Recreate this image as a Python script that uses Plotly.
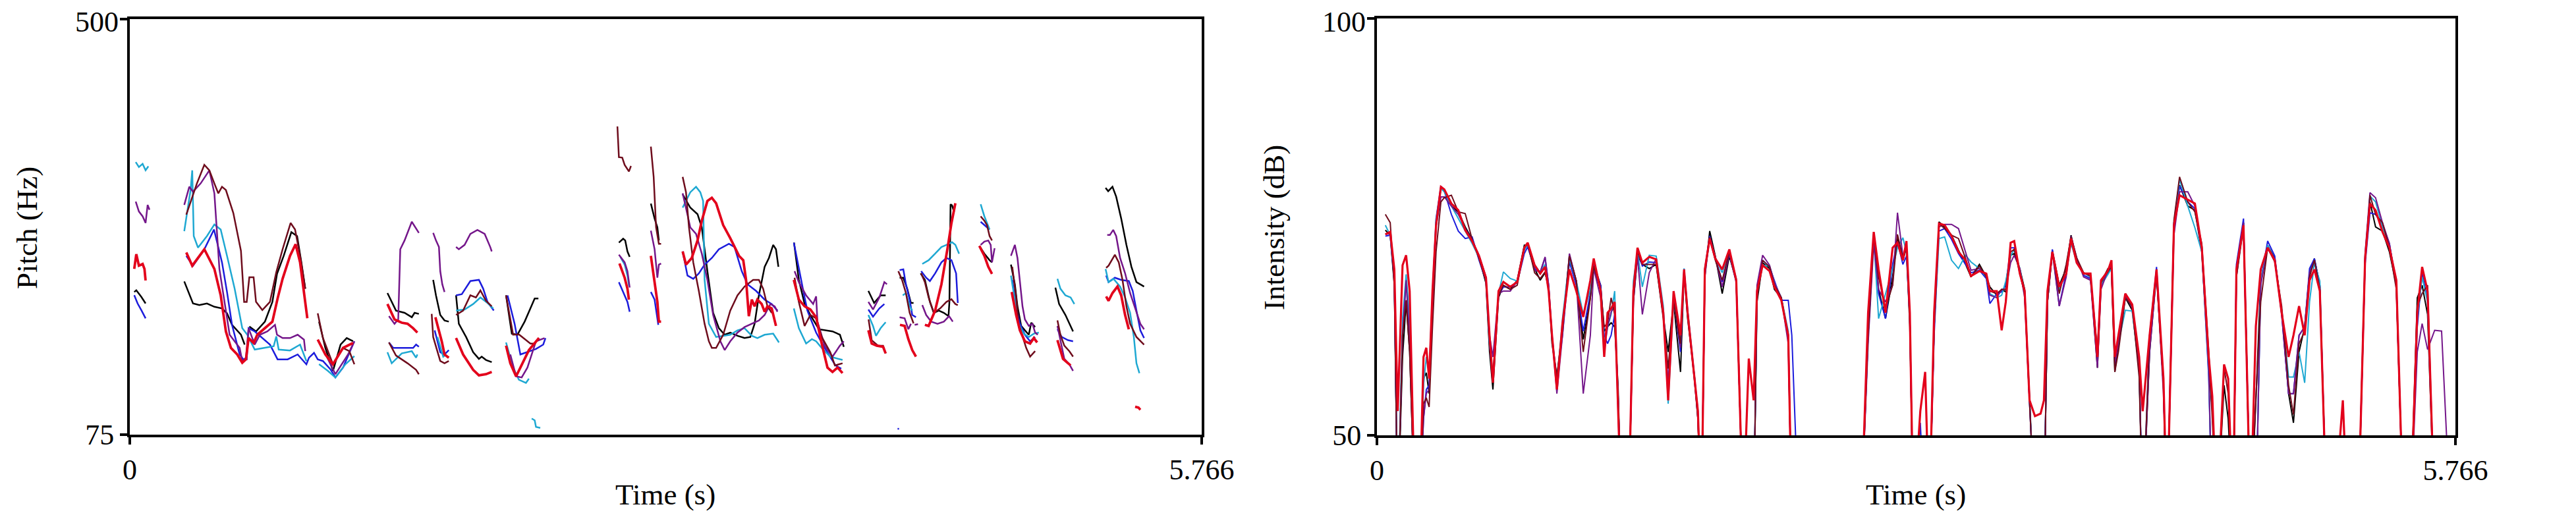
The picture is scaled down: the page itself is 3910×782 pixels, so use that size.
import plotly.graph_objects as go

# ---------------- axes / labels ----------------
T_END = 5.766
PITCH_RANGE = [75, 500]
INT_RANGE = [50, 100]
X_TICK_VALS = [0, 5.766]
X_TICK_TEXT = ["0", "5.766"]
PITCH_TICK_VALS = [75, 500]
PITCH_TICK_TEXT = ["75", "500"]
INT_TICK_VALS = [50, 100]
INT_TICK_TEXT = ["50", "100"]

SERIES_NAMES = ["black", "blue", "cyan", "purple", "maroon", "red"]
SERIES_COLORS = ["#000000", "#1c1cdc", "#1ea8d2", "#74168a", "#6e0c1c", "#e3001b"]

# ---------------- pitch contours (time s, Hz) ----------------
PITCH_BLACK = [
    [(0.024,220.9),(0.035,222.6),(0.062,215.9),(0.085,209.2)],
    [(0.293,231.7),(0.340,209.2),(0.374,207.5),(0.415,209.2),(0.455,205.8),(0.496,204.1),(0.523,199.1),(0.550,187.3),(0.598,177.2),(0.618,167.1)],
    [(0.643,185.6),(0.679,180.6),(0.727,190.7),(0.767,210.8),(0.792,239.4),(0.828,257.9),(0.869,282.1),(0.900,278.1),(0.923,251.2),(0.944,224.3)],
    [(1.018,190.6),(1.052,163.7),(1.093,140.2),(1.134,167.1),(1.167,173.8),(1.201,170.5)],
    [(1.386,219.8),(1.432,201.9),(1.478,199.6),(1.517,195.1),(1.532,199.6),(1.555,198.5)],
    [(1.632,233.3),(1.647,217.5),(1.670,197.4),(1.693,191.8),(1.716,190.6)],
    [(1.755,217.5),(1.770,188.4),(1.809,174.9),(1.847,159.3),(1.878,152.5),(1.893,154.8),(1.916,151.4),(1.947,149.2)],
    [(2.024,217.5),(2.055,178.3),(2.085,177.2),(2.124,190.6),(2.155,204.1),(2.178,214.2),(2.198,214.2)],
    [(2.631,271.4),(2.654,275.4),(2.665,273.6),(2.677,262.4),(2.689,256.8)],
    [(2.803,311.3),(2.823,296.0),(2.838,287.0),(2.846,273.6)],
    [(2.974,320.7),(3.015,307.2),(3.054,300.5),(3.077,287.0),(3.107,242.2),(3.138,199.6),(3.169,183.9),(3.200,177.2),(3.230,179.4),(3.269,176.1),(3.307,173.8),(3.338,174.9),(3.361,188.4),(3.384,217.5),(3.415,246.7),(3.438,255.7),(3.461,269.1),(3.476,264.6),(3.489,246.7)],
    [(3.573,271.4),(3.599,233.3),(3.630,208.6),(3.661,197.4),(3.707,182.8),(3.753,181.7),(3.780,180.6),(3.820,177.2),(3.841,164.9)],
    [(3.973,222.0),(4.004,209.7),(4.039,217.5),(4.066,217.5)],
    [(4.141,235.5),(4.161,235.5),(4.182,224.3),(4.202,209.7),(4.216,209.7)],
    [(4.254,240.0),(4.277,233.3),(4.304,210.8),(4.325,199.6),(4.352,201.9),(4.379,199.6),(4.404,196.2),(4.409,210.8),(4.415,310.6),(4.423,309.5),(4.434,302.7)],
    [(4.570,268.0),(4.597,260.1),(4.625,253.4),(4.638,251.2)],
    [(4.740,248.9),(4.761,228.8),(4.775,206.3),(4.795,186.2),(4.815,181.7),(4.836,177.2),(4.849,189.5),(4.870,185.0)],
    [(4.979,225.4),(4.999,208.6),(5.033,197.4),(5.054,188.4),(5.074,180.6)],
    [(5.249,327.4),(5.263,324.0),(5.286,328.5),(5.306,318.4),(5.333,296.0),(5.361,269.1),(5.388,246.7),(5.415,231.0),(5.456,226.5)],
]
PITCH_BLUE = [
    [(0.024,217.6),(0.042,209.2),(0.062,202.4),(0.085,194.0)],
    [(0.304,257.9),(0.340,247.8),(0.401,264.6),(0.453,284.8),(0.496,251.2),(0.523,220.9),(0.550,187.3),(0.591,157.0),(0.611,152.0),(0.629,152.0),(0.639,183.9),(0.672,180.6),(0.754,167.1),(0.795,152.0),(0.849,152.0),(0.903,157.0),(0.950,146.9),(0.964,153.7),(0.991,158.7),(1.011,152.0),(1.039,150.3),(1.079,141.9),(1.106,133.5),(1.147,143.6),(1.208,170.5)],
    [(1.394,169.3),(1.417,163.7),(1.478,163.7),(1.524,163.7),(1.540,167.1),(1.555,164.9)],
    [(1.640,181.7),(1.670,159.3),(1.693,157.0),(1.716,161.5)],
    [(1.755,217.5),(1.786,218.7),(1.832,232.1),(1.878,233.3),(1.901,224.3),(1.924,210.8),(1.958,201.9)],
    [(2.032,217.5),(2.070,188.4),(2.101,157.0),(2.139,159.3),(2.185,162.6),(2.224,167.1),(2.236,173.8)],
    [(2.631,231.0),(2.662,217.5),(2.677,210.8),(2.689,200.7)],
    [(2.803,220.9),(2.823,213.1),(2.843,187.3)],
    [(2.974,262.4),(3.000,237.7),(3.031,234.4),(3.061,239.9),(3.092,248.9),(3.131,255.7),(3.169,264.6),(3.223,270.2),(3.253,266.9),(3.292,242.2),(3.323,228.8),(3.369,222.0),(3.415,213.1),(3.453,208.6),(3.484,201.9)],
    [(3.572,271.4),(3.592,251.2),(3.630,215.3),(3.645,201.9),(3.692,179.4),(3.738,163.7),(3.768,154.8),(3.796,145.8),(3.827,142.4)],
    [(3.973,203.0),(3.998,195.6),(4.032,204.1),(4.059,208.6)],
    [(4.130,81.0),(4.138,81.0)],
    [(4.141,243.3),(4.161,244.0),(4.175,228.8),(4.195,213.1),(4.209,197.4),(4.229,195.1)],
    [(4.257,242.2),(4.284,235.5),(4.304,232.1),(4.332,239.9),(4.366,251.2),(4.393,255.7),(4.420,253.4),(4.445,239.9),(4.454,209.7)],
    [(4.577,292.7),(4.597,289.3),(4.625,284.8)],
    [(4.747,233.3),(4.768,206.3),(4.788,188.4),(4.815,177.2),(4.843,170.5),(4.870,174.9)],
    [(4.990,182.8),(5.013,174.9),(5.047,171.6),(5.074,170.5)],
    [(5.252,237.7),(5.265,231.0),(5.299,235.5),(5.333,233.3),(5.374,232.1),(5.395,222.0),(5.415,201.9),(5.436,181.7),(5.456,173.8)],
]
PITCH_CYAN = [
    [(0.032,353.8),(0.049,348.7),(0.069,352.0),(0.085,345.4),(0.100,349.4)],
    [(0.293,283.1),(0.327,325.2),(0.336,345.3),(0.344,278.1),(0.367,266.3),(0.415,278.1),(0.455,289.9),(0.489,284.8),(0.523,257.9),(0.564,224.3),(0.605,183.9),(0.632,177.2),(0.672,162.0),(0.727,163.7),(0.774,165.4),(0.788,175.5),(0.801,162.0),(0.862,161.1),(0.916,167.1),(0.950,150.3)],
    [(1.018,147.0),(1.066,140.2),(1.106,133.5),(1.160,147.0),(1.208,155.3)],
    [(1.386,159.3),(1.409,148.0),(1.463,158.1),(1.517,160.4),(1.540,153.7),(1.547,157.0)],
    [(1.655,174.9),(1.686,154.8),(1.701,157.0)],
    [(1.755,201.9),(1.801,203.0),(1.847,208.6),(1.886,215.3),(1.924,209.7),(1.955,204.1)],
    [(2.024,169.3),(2.062,143.6),(2.093,131.2),(2.131,127.9),(2.147,132.3)],
    [(2.162,91.5),(2.178,89.7),(2.185,83.0),(2.208,81.9)],
    [(2.639,256.8),(2.662,248.9),(2.677,237.7),(2.686,226.5)],
    [(2.974,307.2),(2.992,314.0),(3.015,322.9),(3.046,328.5),(3.069,322.9),(3.084,314.0),(3.092,233.3),(3.115,188.4),(3.154,174.9),(3.192,176.1),(3.230,177.2),(3.269,181.7),(3.307,183.9),(3.346,176.1),(3.376,173.8),(3.415,177.2),(3.461,178.3),(3.492,169.3)],
    [(3.572,204.1),(3.599,183.9),(3.638,168.2),(3.669,172.7),(3.692,170.5),(3.722,163.7),(3.768,154.8),(3.834,151.4)],
    [(3.973,197.4),(3.998,186.2),(4.014,176.1),(4.039,183.9),(4.066,190.0)],
    [(4.158,217.5),(4.175,219.8),(4.195,206.3),(4.209,201.9)],
    [(4.263,249.6),(4.297,253.4),(4.332,260.1),(4.366,266.9),(4.393,269.1),(4.423,271.8),(4.441,269.1),(4.461,260.1)],
    [(4.577,310.6),(4.597,298.3),(4.625,284.8)],
    [(4.740,237.7),(4.761,210.8),(4.781,188.4),(4.809,178.3),(4.836,174.9),(4.863,178.3),(4.890,179.4)],
    [(4.990,234.4),(5.006,224.3),(5.033,217.5),(5.061,215.3),(5.081,208.6)],
    [(5.249,244.4),(5.265,231.0),(5.292,234.4),(5.327,226.5),(5.354,215.3),(5.381,199.6),(5.401,174.9),(5.415,148.0),(5.431,137.9)],
]
PITCH_PURPLE = [
    [(0.032,313.4),(0.049,303.3),(0.069,298.3),(0.085,291.5),(0.096,310.0),(0.106,305.0)],
    [(0.293,310.0),(0.320,328.5),(0.340,323.5),(0.381,331.9),(0.428,345.3),(0.455,321.8),(0.482,244.5),(0.510,210.8),(0.537,177.2),(0.591,163.7),(0.605,150.3),(0.625,153.7),(0.639,183.9),(0.672,167.1),(0.700,177.2),(0.740,180.6),(0.781,187.3),(0.792,177.2),(0.822,173.8),(0.862,173.8),(0.903,177.2),(0.937,172.2),(0.944,160.4)],
    [(1.045,160.4),(1.106,136.9),(1.174,157.0),(1.208,170.5)],
    [(1.394,196.2),(1.424,188.4),(1.444,192.9),(1.455,264.6),(1.478,273.6),(1.517,292.7),(1.555,281.4)],
    [(1.632,281.4),(1.647,273.6),(1.663,266.9),(1.670,242.2),(1.681,228.8),(1.693,220.9)],
    [(1.755,266.9),(1.770,264.6),(1.801,269.1),(1.832,280.3),(1.870,284.4),(1.909,280.3),(1.939,266.9),(1.947,262.4)],
    [(2.047,157.0),(2.078,134.6),(2.108,133.5),(2.139,143.6),(2.185,170.5),(2.231,173.8)],
    [(2.631,259.0),(2.662,251.2),(2.677,242.2),(2.689,225.4)],
    [(2.803,283.7),(2.823,264.6),(2.838,235.5),(2.846,248.9),(2.858,250.1)],
    [(2.974,321.8),(2.992,307.2),(3.015,287.0),(3.046,280.3),(3.077,260.1),(3.107,233.3),(3.138,197.4),(3.177,170.5),(3.200,161.5),(3.230,170.5),(3.269,179.4),(3.307,185.0),(3.346,188.4),(3.384,191.8),(3.415,197.4),(3.446,208.6),(3.469,206.3),(3.484,200.7)],
    [(3.576,242.2),(3.599,231.0),(3.638,217.5),(3.676,208.6),(3.692,216.4),(3.699,190.6),(3.738,166.0),(3.780,154.8),(3.820,166.0),(3.841,170.5)],
    [(3.973,210.8),(3.998,203.0),(4.032,215.3),(4.059,231.0),(4.073,228.8)],
    [(4.141,195.1),(4.168,194.0),(4.188,182.8),(4.202,188.4)],
    [(4.222,187.3),(4.240,188.0)],
    [(4.263,207.5),(4.284,197.4),(4.311,190.6),(4.345,188.4),(4.379,190.6),(4.407,196.2),(4.427,190.6)],
    [(4.577,269.1),(4.597,272.5),(4.618,273.6),(4.631,269.1),(4.638,251.2),(4.652,265.7)],
    [(4.740,257.9),(4.761,269.1),(4.775,255.7),(4.788,233.3),(4.802,206.3),(4.815,192.9),(4.836,186.2),(4.856,188.4),(4.870,179.4),(4.884,177.2)],
    [(4.990,186.2),(5.006,170.5),(5.027,152.5),(5.054,146.9),(5.074,140.2)],
    [(5.258,279.2),(5.272,279.2),(5.290,284.4),(5.306,278.1),(5.327,255.7),(5.354,240.0),(5.381,219.8),(5.408,204.1),(5.436,188.4),(5.456,182.8)],
]
PITCH_MAROON = [
    [(0.304,300.0),(0.361,331.9),(0.401,351.0),(0.428,345.3),(0.455,331.9),(0.476,321.8),(0.496,328.5),(0.517,325.2),(0.557,301.6),(0.598,263.0),(0.615,210.8),(0.629,210.8),(0.643,236.0),(0.666,236.0),(0.679,210.8),(0.713,202.4),(0.754,210.8),(0.788,241.1),(0.822,264.6),(0.865,291.5),(0.889,284.8),(0.916,257.9),(0.944,224.3)],
    [(1.011,199.1),(1.039,173.8),(1.093,147.0),(1.147,163.7),(1.181,160.4),(1.208,147.0)],
    [(1.394,169.3),(1.432,155.9),(1.494,148.0),(1.540,141.3),(1.555,136.8)],
    [(1.624,198.5),(1.632,174.9),(1.670,150.3),(1.693,148.0),(1.716,150.3)],
    [(1.755,197.4),(1.793,201.9),(1.832,217.5),(1.862,215.3),(1.886,222.5),(1.916,211.9),(1.947,206.3)],
    [(2.024,217.5),(2.062,177.2),(2.093,177.6),(2.124,172.7),(2.155,168.2),(2.178,168.2),(2.201,173.8)],
    [(2.623,390.2),(2.631,358.8),(2.649,358.3),(2.662,350.9),(2.685,344.2),(2.696,349.8)],
    [(2.803,369.6),(2.818,338.6),(2.831,287.0),(2.846,270.2),(2.858,270.2)],
    [(2.974,338.6),(2.992,322.9),(3.008,287.0),(3.031,251.2),(3.061,222.0),(3.092,188.4),(3.115,170.5),(3.131,163.7),(3.154,163.7),(3.192,177.2),(3.230,201.9),(3.269,217.5),(3.307,226.5),(3.353,233.3),(3.384,233.3),(3.407,224.3),(3.430,206.3),(3.453,199.6)],
    [(3.576,235.5),(3.599,210.8),(3.630,186.2),(3.661,197.4),(3.692,194.0),(3.722,174.9),(3.768,159.3),(3.793,145.8),(3.834,148.0)],
    [(3.974,192.9),(3.991,171.6),(4.025,166.0),(4.052,166.0),(4.066,158.1)],
    [(4.134,242.2),(4.154,233.3),(4.175,219.8),(4.195,199.6),(4.216,188.8)],
    [(4.257,240.0),(4.277,231.0),(4.297,215.3),(4.325,199.6),(4.359,204.1),(4.393,210.8),(4.420,213.5),(4.441,208.6),(4.454,207.5)],
    [(4.577,298.3),(4.597,293.8),(4.611,289.3),(4.625,278.1),(4.638,273.6)],
    [(4.747,246.7),(4.768,215.3),(4.781,188.4),(4.802,174.9),(4.822,163.7),(4.843,154.8),(4.870,160.4)],
    [(4.990,191.8),(5.006,177.2),(5.027,166.0),(5.054,160.4),(5.074,154.8)],
    [(5.252,245.6),(5.265,247.8),(5.299,259.0),(5.320,251.2),(5.340,233.3),(5.361,206.3),(5.381,188.4),(5.415,174.9),(5.456,167.1)],
]
PITCH_RED = [
    [(0.024,244.5),(0.035,259.6),(0.049,247.8),(0.069,249.5),(0.079,244.5),(0.085,232.7)],
    [(0.304,261.3),(0.336,247.8),(0.401,264.6),(0.455,244.5),(0.489,217.6),(0.517,180.6),(0.544,163.7),(0.578,157.0),(0.605,148.6),(0.625,152.0),(0.639,173.8),(0.666,168.8),(0.686,177.2),(0.727,183.9),(0.767,190.6),(0.795,214.2),(0.822,234.4),(0.862,257.9),(0.892,269.7),(0.916,251.2),(0.937,220.9),(0.955,194.0)],
    [(1.011,172.2),(1.052,157.0),(1.093,147.0),(1.147,163.7),(1.201,168.8)],
    [(1.386,208.6),(1.424,192.9),(1.463,189.5),(1.494,188.4),(1.524,183.9),(1.540,180.6),(1.547,179.4)],
    [(1.644,195.1),(1.663,181.7),(1.678,170.5),(1.693,157.0),(1.716,153.6)],
    [(1.755,173.8),(1.793,157.0),(1.847,141.3),(1.878,135.7),(1.916,136.8),(1.947,139.1)],
    [(2.024,166.0),(2.047,148.0),(2.078,134.6),(2.108,145.8),(2.147,161.5),(2.201,173.8)],
    [(2.634,250.1),(2.662,235.5),(2.677,224.3),(2.685,213.1)],
    [(2.803,257.9),(2.823,233.3),(2.838,210.8),(2.846,190.6),(2.858,190.6)],
    [(2.974,262.4),(2.992,248.9),(3.023,255.7),(3.054,273.6),(3.077,293.8),(3.107,314.0),(3.131,317.3),(3.154,311.7),(3.192,289.3),(3.230,275.9),(3.277,257.9),(3.300,253.4),(3.315,233.3),(3.330,196.2),(3.346,213.1),(3.361,206.3),(3.376,213.1),(3.399,208.6),(3.415,200.7),(3.430,206.3),(3.453,204.1),(3.476,186.2)],
    [(3.572,233.3),(3.599,213.1),(3.630,206.3),(3.661,203.0),(3.692,195.1),(3.722,168.2),(3.753,143.6),(3.780,139.1),(3.807,143.6),(3.834,138.0)],
    [(3.973,181.7),(3.991,168.2),(4.018,166.0),(4.052,164.9),(4.066,158.1)],
    [(4.143,187.3),(4.168,186.2),(4.188,172.7),(4.209,161.5),(4.229,154.8)],
    [(4.277,187.3),(4.297,186.2),(4.332,201.9),(4.366,228.8),(4.400,266.9),(4.420,291.5),(4.441,311.7)],
    [(4.570,268.0),(4.597,257.9),(4.618,246.7),(4.638,239.5)],
    [(4.744,220.9),(4.768,197.4),(4.788,181.7),(4.815,170.5),(4.843,168.2),(4.863,173.8),(4.881,169.3)],
    [(4.990,171.6),(5.006,161.5),(5.020,152.5),(5.040,149.2),(5.061,145.8)],
    [(5.252,216.4),(5.265,211.9),(5.286,219.8),(5.313,226.5),(5.333,217.5),(5.354,197.4),(5.374,182.8)],
    [(5.408,103.6),(5.426,102.7),(5.436,100.5)],
]

# ---------------- intensity contours (shared time grid, dB) ----------------
INT_T = [
    0.045, 0.071, 0.093, 0.111, 0.137, 0.156, 0.175, 0.204, 0.227, 0.249,
    0.264, 0.279, 0.297, 0.316, 0.342, 0.360, 0.398, 0.435, 0.472, 0.509,
    0.546, 0.583, 0.602, 0.620, 0.650, 0.676, 0.713, 0.750, 0.788, 0.806,
    0.843, 0.873, 0.899, 0.918, 0.936, 0.962, 0.992, 1.029, 1.066, 1.103,
    1.141, 1.159, 1.196, 1.215, 1.233, 1.252, 1.271, 1.289, 1.308, 1.345,
    1.371, 1.393, 1.419, 1.456, 1.493, 1.531, 1.557, 1.586, 1.623, 1.642,
    1.661, 1.698, 1.716, 1.735, 1.753, 1.779, 1.809, 1.846, 1.884, 1.921,
    1.958, 1.988, 2.014, 2.032, 2.062, 2.099, 2.125, 2.162, 2.199, 2.218,
    2.255, 2.589, 2.626, 2.656, 2.682, 2.719, 2.757, 2.783, 2.812, 2.831,
    2.849, 2.868, 2.905, 2.931, 2.953, 2.979, 3.005, 3.035, 3.072, 3.109,
    3.147, 3.176, 3.221, 3.258, 3.277, 3.314, 3.340, 3.362, 3.388, 3.407,
    3.437, 3.463, 3.489, 3.518, 3.548, 3.566, 3.585, 3.611, 3.648, 3.685,
    3.711, 3.741, 3.778, 3.815, 3.852, 3.871, 3.908, 3.927, 3.945, 3.964,
    4.001, 4.038, 4.075, 4.094, 4.131, 4.168, 4.205, 4.224, 4.261, 4.291,
    4.335, 4.373, 4.410, 4.447, 4.466, 4.491, 4.529, 4.551, 4.577, 4.595,
    4.633, 4.670, 4.699, 4.725, 4.762, 4.800, 4.837, 4.874, 4.900, 4.930,
    4.960, 4.986, 5.012, 5.041, 5.078, 5.116, 5.164, 5.190, 5.246, 5.283,
    5.309, 5.339, 5.376, 5.413, 5.450, 5.488, 5.525, 5.562, 5.588, 5.617,
    5.655, 5.692, 5.729,
]
INT_BLACK = [
    74.6, 74.0, 68.0, 40, 59.4, 66.0, 60.0, 40, 40, 56.8,
    57.5, 55.0, 66.0, 75.5, 79.6, 79.3, 77.5, 76.8, 75.0, 73.5,
    71.3, 68.2, 60.0, 55.5, 66.5, 68.0, 67.5, 68.6, 72.8, 72.8,
    70.0, 68.6, 69.5, 67.8, 61.0, 57.0, 63.0, 71.6, 68.5, 61.5,
    66.5, 70.5, 68.0, 62.5, 63.0, 63.5, 63.0, 56.0, 40, 40,
    66.0, 71.6, 70.5, 70.0, 70.5, 64.0, 60.0, 66.0, 57.6, 69.5,
    64.0, 57.0, 52.0, 40, 69.0, 74.5, 71.5, 67.0, 71.5, 68.5,
    40, 40, 40, 66.0, 70.7, 70.0, 67.5, 66.5, 61.5, 40,
    40, 40, 63.0, 74.3, 67.5, 64.0, 69.0, 73.7, 71.0, 72.5,
    63.0, 40, 40, 40, 40, 63.0, 75.6, 75.0, 74.0, 72.2,
    70.5, 69.0, 70.5, 69.0, 67.8, 66.8, 67.5, 67.2, 71.6, 71.8,
    70.0, 67.5, 54.0, 40, 40, 40, 66.0, 72.2, 68.0, 70.0,
    74.0, 71.0, 69.5, 69.0, 58.1, 68.0, 69.5, 70.2, 57.6, 61.0,
    66.5, 65.0, 58.0, 40, 60.0, 69.5, 56.0, 40, 75.0, 80.0,
    77.5, 77.0, 72.0, 58.5, 53.0, 40, 56.0, 52.0, 40, 69.0,
    75.5, 40, 54.0, 68.5, 72.8, 71.2, 65.0, 55.0, 51.5, 60.0,
    63.0, 69.5, 71.2, 68.0, 40, 40, 40, 40, 40, 71.0,
    78.0, 75.0, 74.5, 72.0, 68.0, 40, 40, 66.5, 68.0, 64.5,
    40, 40, 40,
]
INT_BLUE = [
    73.9, 74.0, 68.5, 40, 62.0, 68.6, 62.0, 40, 40, 52.0,
    55.5, 56.0, 67.0, 76.0, 79.9, 79.3, 76.5, 74.5, 73.6, 73.8,
    71.0, 68.5, 61.0, 56.5, 66.8, 67.8, 67.8, 68.3, 71.8, 72.6,
    70.0, 69.5, 71.3, 68.0, 62.0, 56.5, 62.0, 70.8, 68.0, 62.5,
    67.0, 70.5, 68.0, 62.0, 61.0, 62.0, 64.5, 55.0, 40, 40,
    67.0, 72.0, 70.3, 70.8, 70.7, 65.0, 56.0, 66.5, 60.0, 70.0,
    65.0, 57.0, 53.0, 40, 70.0, 73.9, 71.3, 68.4, 71.8, 68.5,
    40, 40, 40, 67.0, 71.0, 70.2, 68.5, 66.2, 66.2, 62.0,
    40, 40, 62.0, 73.6, 67.0, 64.0, 70.5, 73.2, 70.5, 71.5,
    64.0, 40, 51.5, 40, 40, 62.0, 74.5, 74.8, 73.5, 71.8,
    70.5, 69.5, 69.8, 68.8, 65.8, 67.0, 67.2, 68.0, 72.5, 72.5,
    69.5, 67.0, 54.0, 40, 40, 40, 66.5, 72.3, 65.5, 69.5,
    73.5, 71.0, 69.2, 68.8, 59.0, 68.5, 69.8, 70.5, 59.0, 61.5,
    66.5, 65.5, 58.5, 40, 62.0, 70.2, 56.0, 40, 75.5, 79.9,
    78.0, 77.2, 72.3, 57.0, 40, 40, 40, 40, 40, 70.5,
    76.0, 40, 40, 68.5, 73.3, 71.5, 64.5, 55.0, 55.0, 62.0,
    63.0, 70.0, 71.2, 68.0, 40, 40, 40, 40, 40, 70.5,
    76.7, 76.5, 75.2, 73.0, 68.0, 40, 40, 63.0, 69.5, 66.2,
    40, 40, 40,
]
INT_CYAN = [
    75.2, 74.0, 69.0, 40, 64.0, 69.3, 64.0, 40, 40, 56.0,
    59.4, 57.5, 67.0, 75.8, 79.6, 79.2, 77.5, 76.0, 74.5, 73.0,
    71.3, 68.6, 61.0, 57.0, 67.0, 69.6, 68.8, 68.5, 72.2, 72.9,
    70.5, 69.5, 70.5, 67.5, 61.5, 56.0, 64.0, 71.2, 68.5, 64.5,
    67.5, 70.0, 67.5, 61.0, 63.0, 64.5, 67.3, 55.0, 40, 40,
    68.5, 72.0, 67.8, 71.6, 71.5, 65.5, 53.8, 66.0, 61.0, 70.0,
    65.0, 57.0, 52.0, 40, 69.5, 73.5, 71.3, 69.5, 72.0, 68.8,
    40, 40, 40, 67.0, 70.4, 70.3, 68.3, 66.5, 62.5, 40,
    40, 40, 62.0, 73.8, 64.0, 67.0, 70.0, 72.5, 73.7, 72.0,
    64.0, 40, 40, 40, 40, 63.0, 73.6, 73.8, 71.0, 70.0,
    71.6, 70.8, 70.0, 69.0, 67.0, 66.5, 66.8, 68.5, 71.5, 72.3,
    70.0, 67.0, 54.0, 40, 40, 40, 66.0, 72.0, 67.5, 69.5,
    73.0, 70.8, 69.5, 69.0, 60.0, 68.0, 69.3, 70.0, 60.0, 61.0,
    65.0, 64.9, 58.0, 40, 61.0, 69.5, 56.0, 40, 75.5, 80.7,
    77.5, 74.9, 72.0, 57.5, 40, 40, 40, 40, 40, 69.5,
    75.3, 40, 40, 68.5, 72.8, 71.0, 65.0, 57.0, 57.0, 60.0,
    56.3, 66.0, 70.7, 68.5, 40, 40, 40, 40, 40, 71.5,
    78.7, 78.0, 75.0, 72.8, 68.5, 40, 40, 64.0, 69.0, 66.0,
    40, 40, 40,
]
INT_PURPLE = [
    74.1, 74.2, 69.0, 40, 62.0, 68.6, 61.0, 40, 40, 52.0,
    55.0, 55.5, 66.0, 75.0, 78.6, 78.6, 77.5, 76.5, 74.8, 73.4,
    71.6, 69.0, 62.0, 59.4, 67.0, 67.3, 67.3, 68.5, 72.5, 73.0,
    69.8, 69.6, 71.4, 68.0, 62.0, 55.0, 62.0, 71.8, 68.5, 55.0,
    62.0, 70.0, 66.5, 60.0, 63.0, 64.8, 65.5, 55.0, 40, 40,
    66.0, 71.5, 64.5, 69.5, 71.2, 64.5, 56.0, 66.5, 60.5, 69.8,
    64.5, 56.5, 52.0, 40, 69.0, 73.8, 71.3, 67.8, 71.8, 68.3,
    40, 40, 40, 68.0, 71.6, 70.4, 68.3, 66.5, 61.0, 40,
    40, 40, 61.0, 73.0, 67.5, 66.0, 68.0, 76.7, 71.5, 72.5,
    64.0, 40, 40, 40, 40, 63.0, 75.0, 75.3, 75.3, 74.8,
    72.0, 69.8, 70.0, 69.3, 66.8, 66.5, 67.5, 67.5, 70.7, 71.6,
    70.0, 66.5, 54.0, 40, 40, 40, 66.0, 72.0, 65.5, 69.0,
    73.9, 71.3, 69.0, 68.6, 58.1, 67.5, 69.8, 70.3, 58.5, 61.0,
    66.8, 65.3, 58.5, 40, 60.0, 69.5, 55.0, 40, 74.0, 79.2,
    79.2, 77.5, 72.2, 58.0, 40, 40, 40, 40, 40, 69.8,
    75.5, 40, 40, 68.0, 72.5, 71.0, 64.5, 55.0, 55.0, 62.0,
    63.0, 69.5, 71.0, 67.5, 40, 40, 40, 40, 40, 71.8,
    79.1, 78.5, 75.5, 73.0, 68.0, 40, 40, 60.0, 63.4, 60.3,
    62.6, 62.5, 45,
]
INT_MAROON = [
    76.5, 75.5, 68.0, 40, 62.0, 66.2, 60.0, 40, 40, 53.8,
    54.5, 53.4, 63.0, 72.0, 78.0, 78.5, 78.8, 76.8, 76.6, 73.5,
    71.2, 68.5, 61.5, 57.0, 66.8, 68.0, 67.5, 68.0, 72.5, 73.0,
    69.5, 68.8, 69.6, 67.5, 61.5, 57.0, 62.5, 71.5, 68.5, 60.0,
    66.5, 70.3, 67.5, 63.0, 63.5, 66.5, 64.5, 55.0, 40, 40,
    66.5, 72.0, 70.5, 70.5, 70.5, 64.0, 58.0, 66.0, 61.0, 69.5,
    64.5, 56.5, 52.0, 40, 69.5, 73.7, 71.0, 68.6, 72.0, 68.5,
    40, 40, 40, 66.5, 71.0, 70.2, 68.0, 66.5, 62.0, 40,
    40, 40, 62.0, 74.0, 69.0, 65.2, 68.0, 74.1, 71.3, 72.5,
    64.0, 40, 40, 40, 40, 63.0, 75.4, 74.8, 74.0, 73.6,
    71.2, 69.0, 70.3, 69.0, 67.3, 67.0, 67.5, 67.5, 72.0, 72.3,
    69.5, 67.0, 54.0, 40, 40, 40, 66.0, 72.0, 67.0, 70.5,
    73.8, 71.3, 69.5, 69.1, 60.0, 68.3, 70.0, 70.0, 57.6, 60.0,
    66.5, 65.5, 57.0, 40, 62.0, 69.3, 56.0, 40, 75.8, 81.0,
    78.0, 76.8, 73.0, 60.0, 52.0, 40, 58.1, 55.0, 40, 69.0,
    75.0, 40, 54.4, 66.0, 72.5, 70.8, 65.5, 56.0, 52.5, 61.0,
    62.5, 69.0, 71.0, 67.5, 40, 40, 40, 40, 40, 71.0,
    78.8, 76.5, 75.5, 72.5, 67.5, 40, 40, 65.5, 67.0, 68.0,
    40, 40, 40,
]
INT_RED = [
    74.1, 74.4, 69.9, 52.9, 70.4, 71.6, 67.3, 40, 40, 59.4,
    60.5, 56.8, 67.3, 75.2, 79.8, 79.5, 77.8, 77.0, 74.6, 73.3,
    71.5, 68.9, 62.0, 56.3, 67.3, 68.4, 67.8, 68.4, 72.5, 73.1,
    70.4, 69.4, 70.2, 67.3, 62.0, 55.5, 63.4, 69.9, 67.3, 64.2,
    68.6, 71.2, 67.3, 59.4, 64.7, 65.2, 66.0, 54.2, 40, 40,
    67.3, 72.5, 70.7, 71.4, 71.1, 64.7, 54.2, 67.3, 62.0, 69.9,
    64.7, 56.8, 52.9, 40, 69.9, 73.6, 71.2, 69.9, 72.3, 68.6,
    40, 59.2, 54.2, 67.3, 70.4, 69.7, 67.8, 66.2, 62.0, 40,
    40, 40, 64.7, 74.4, 69.9, 64.7, 72.5, 73.1, 71.0, 73.3,
    64.7, 40, 52.9, 57.6, 40, 64.7, 75.4, 75.2, 73.9, 72.0,
    71.0, 69.1, 69.7, 69.4, 67.3, 67.3, 62.6, 66.0, 73.1, 73.3,
    69.4, 67.3, 54.2, 52.3, 52.6, 54.2, 67.3, 72.0, 67.8, 69.4,
    73.6, 70.7, 69.4, 69.4, 59.4, 68.6, 69.7, 71.0, 59.4, 62.0,
    67.0, 65.7, 59.4, 52.9, 62.0, 69.9, 56.8, 40, 75.2, 78.8,
    78.3, 77.8, 72.5, 59.4, 54.7, 40, 58.5, 56.8, 40, 69.9,
    75.2, 40, 63.1, 69.9, 72.5, 71.0, 64.7, 59.4, 62.0, 65.5,
    62.0, 68.6, 69.9, 67.3, 40, 40, 54.2, 40, 40, 71.2,
    77.8, 77.0, 74.4, 72.5, 68.6, 40, 40, 64.7, 70.2, 67.3,
    40, 40, 40,
]

PITCH_SERIES = [PITCH_BLACK, PITCH_BLUE, PITCH_CYAN, PITCH_PURPLE, PITCH_MAROON, PITCH_RED]
INT_SERIES = [INT_BLACK, INT_BLUE, INT_CYAN, INT_PURPLE, INT_MAROON, INT_RED]

# ---------------- layout geometry (px of the 3910x782 canvas) ----------------
W, H = 3910, 782
FONT = "Liberation Serif, Times New Roman, serif"
FS_TICK = 44
FS_TITLE = 45


def px_x(p):
    return p / W


def px_y(p):
    return 1 - p / H


fig = go.Figure()

for name, color, segs in zip(SERIES_NAMES, SERIES_COLORS, PITCH_SERIES):
    xs, ys = [], []
    for seg in segs:
        for t, f in seg:
            xs.append(t)
            ys.append(f)
        xs.append(None)
        ys.append(None)
    fig.add_trace(go.Scatter(
        x=xs, y=ys, mode="lines", name=name, showlegend=False,
        line=dict(color=color, width=3.8 if name == "red" else 2.5),
        connectgaps=False, xaxis="x", yaxis="y", hoverinfo="skip",
    ))

for name, color, vals in zip(SERIES_NAMES, SERIES_COLORS, INT_SERIES):
    fig.add_trace(go.Scatter(
        x=INT_T, y=vals, mode="lines", name=name, showlegend=False,
        line=dict(color=color, width=3.2 if name == "red" else 2.0),
        xaxis="x2", yaxis="y2", hoverinfo="skip",
    ))

axis_common = dict(
    showline=True, linecolor="black", linewidth=4, mirror=True,
    ticks="outside", ticklen=11, tickwidth=4, tickcolor="black",
    showgrid=False, zeroline=False, ticklabeloverflow="allow",
    tickfont=dict(family=FONT, size=FS_TICK, color="black"),
)

# the top y tick labels sit at the very top edge: they are drawn as annotations
# anchored to the top of the canvas so that they are not clipped
pitch_ticktext_axis = [PITCH_TICK_TEXT[0], ""]
int_ticktext_axis = [INT_TICK_TEXT[0], ""]

fig.update_layout(
    width=W, height=H,
    margin=dict(l=0, r=0, t=0, b=0, autoexpand=False),
    paper_bgcolor="white", plot_bgcolor="white",
    xaxis=dict(domain=[px_x(189), px_x(1816)], range=[0, T_END],
               tickvals=X_TICK_VALS, ticktext=X_TICK_TEXT, anchor="y", **axis_common),
    yaxis=dict(domain=[px_y(652), px_y(21)], range=PITCH_RANGE,
               tickvals=PITCH_TICK_VALS, ticktext=pitch_ticktext_axis, anchor="x", **axis_common),
    xaxis2=dict(domain=[px_x(2082), px_x(3719)], range=[0, T_END],
                tickvals=X_TICK_VALS, ticktext=X_TICK_TEXT, anchor="y2", **axis_common),
    yaxis2=dict(domain=[px_y(653), px_y(20)], range=INT_RANGE,
                tickvals=INT_TICK_VALS, ticktext=int_ticktext_axis, anchor="x2", **axis_common),
)

title_font = dict(family=FONT, size=FS_TITLE, color="black")
tick_font = dict(family=FONT, size=FS_TICK, color="black")
annotations = [
    dict(text="Time (s)", x=px_x(1002), y=px_y(743), xref="paper", yref="paper",
         showarrow=False, font=title_font, xanchor="center", yanchor="middle"),
    dict(text="Time (s)", x=px_x(2900), y=px_y(743), xref="paper", yref="paper",
         showarrow=False, font=title_font, xanchor="center", yanchor="middle"),
    dict(text="Pitch (Hz)", x=px_x(33), y=px_y(338), xref="paper", yref="paper",
         showarrow=False, font=title_font, textangle=-90, xanchor="center", yanchor="middle"),
    dict(text="Intensity (dB)", x=px_x(1926), y=px_y(338), xref="paper", yref="paper",
         showarrow=False, font=title_font, textangle=-90, xanchor="center", yanchor="middle"),
    dict(text=PITCH_TICK_TEXT[1], x=px_x(173), y=1.0, xref="paper", yref="paper",
         showarrow=False, font=tick_font, xanchor="right", yanchor="top", borderpad=0),
    dict(text=INT_TICK_TEXT[1], x=px_x(2066), y=1.0, xref="paper", yref="paper",
         showarrow=False, font=tick_font, xanchor="right", yanchor="top", borderpad=0),
]
fig.update_layout(annotations=annotations)

fig.write_html("out.html", config={"displayModeBar": False})
